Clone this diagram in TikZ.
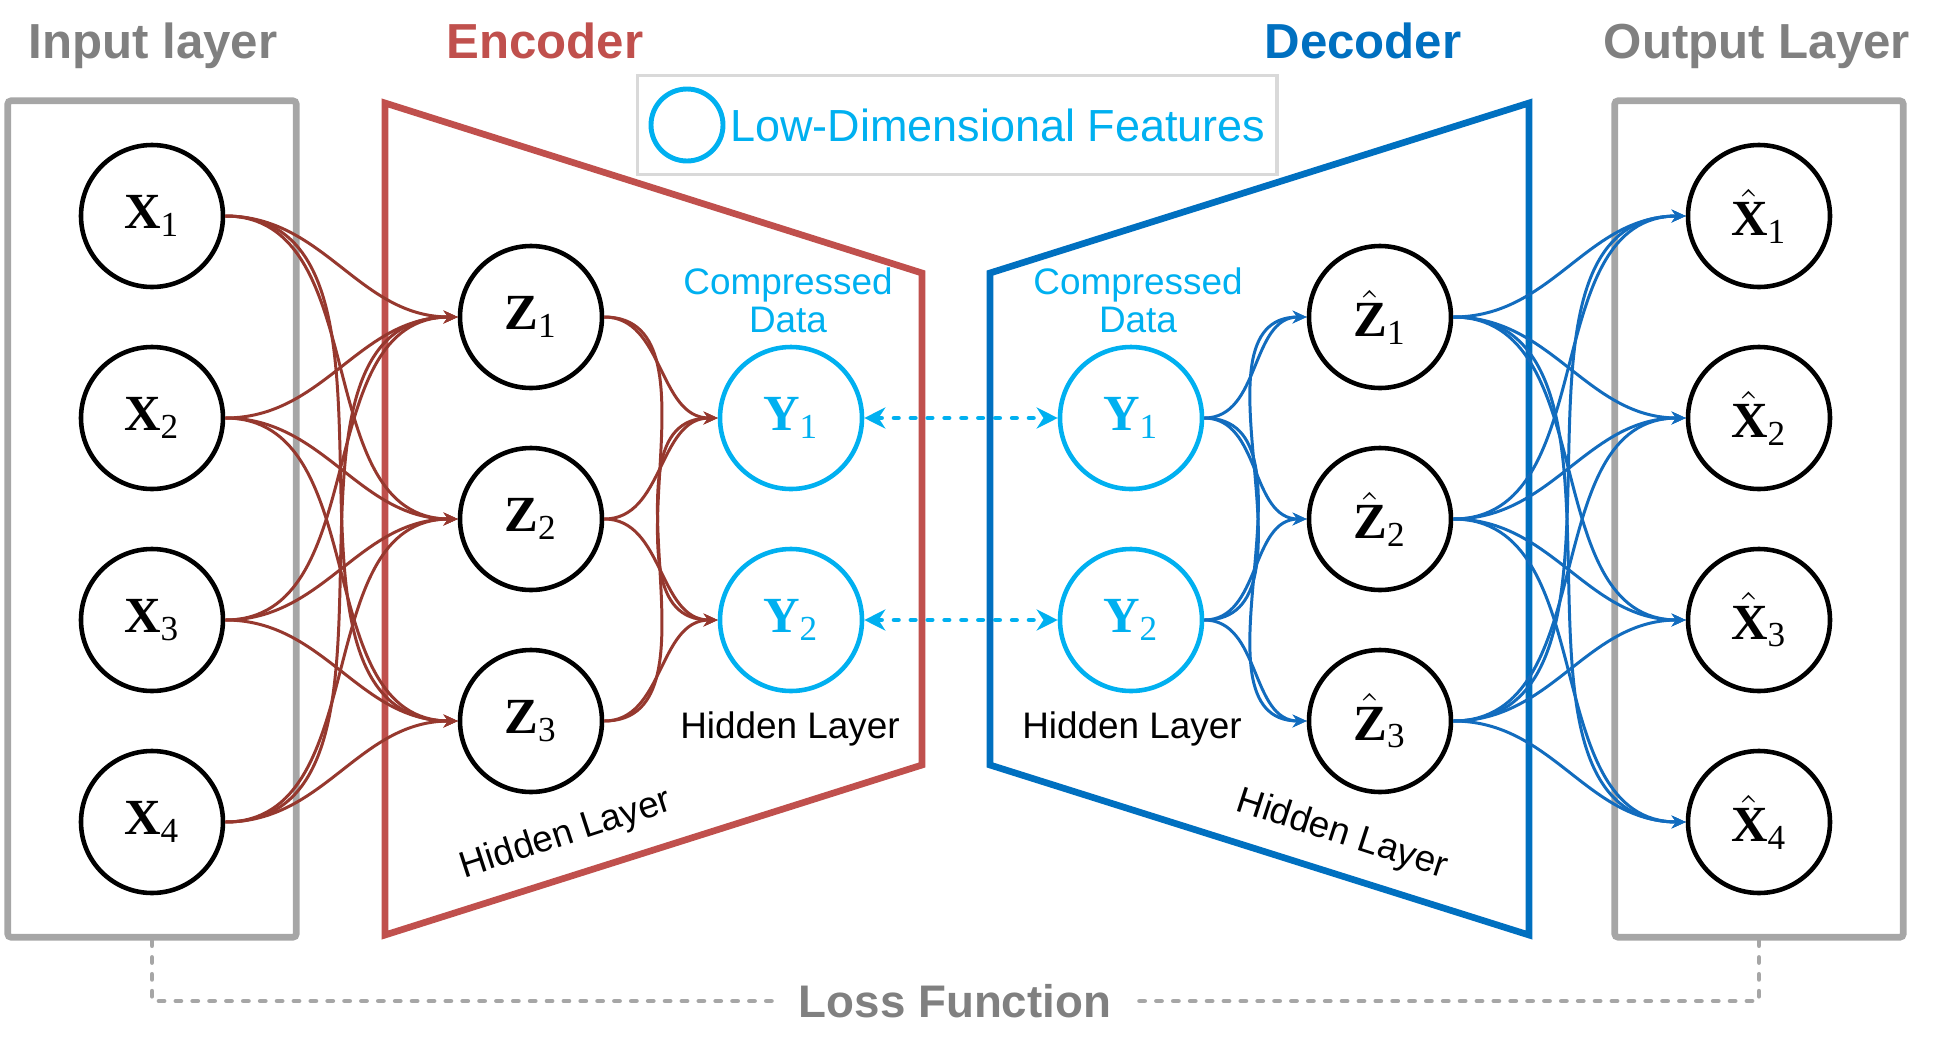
\documentclass[tikz,border=0pt]{standalone}
\usepackage{fontspec}
\setmainfont{Liberation Sans}
\newfontfamily\nodefont{Liberation Serif}
\usepackage{xcolor}
\usepackage{tikz}
\usetikzlibrary{arrows.meta,positioning,fit,backgrounds}
\definecolor{enccol}{RGB}{192,80,77}
\definecolor{encedge}{RGB}{150,56,46}
\definecolor{deccol}{RGB}{0,112,192}
\definecolor{decedge}{RGB}{18,108,190}
\definecolor{featcol}{RGB}{0,176,240}
\definecolor{titlegray}{RGB}{128,128,128}
\definecolor{boxgray}{RGB}{166,166,166}
\definecolor{legendgray}{RGB}{217,217,217}
\newcommand{\nlbl}[2]{{\bfseries #1}\textsubscript{#2}}
\newcommand{\nlblhat}[2]{$\hat{\mbox{\bfseries #1}}$\textsubscript{#2}}
\tikzset{
  nn unit/.style={circle,draw,line width=1.3pt,minimum size=14.2mm,inner sep=0pt,on grid,
    font=\nodefont\fontsize{14.4}{16}\selectfont},
  nn feature/.style={nn unit,draw=featcol,text=featcol},
  layer box/.style={draw=boxgray,line width=1.9pt,rounded corners=1pt,inner xsep=7.1mm,inner ysep=4.2mm},
  layer title/.style={anchor=base,font=\fontsize{14}{16}\selectfont\bfseries},
  enc frame/.style={draw=enccol,line width=1.9pt},
  dec frame/.style={draw=deccol,line width=1.9pt},
  enc arrow/.style={-{Stealth[length=4pt,width=3.6pt]},line width=0.85pt,draw=encedge},
  dec arrow/.style={-{Stealth[length=4pt,width=3.6pt]},line width=0.85pt,draw=decedge},
  feature link/.style={{Stealth[length=6pt,width=6pt]}-{Stealth[length=6pt,width=6pt]},featcol,
    line width=1.4pt,line cap=round,dash pattern=on 1.2pt off 3.6pt},
  hidden label/.style={font=\fontsize{10.5}{10.8}\selectfont,inner sep=0pt},
  loss line/.style={boxgray,line width=1.4pt,line cap=round,dash pattern=on 1.4pt off 3.4pt}
}
\begin{document}
\begin{tikzpicture}[x=0.1mm,y=-0.1mm,node distance=20.2mm]
  \useasboundingbox (0,0) rectangle (1937,1049);
  % encoder / decoder frames
  \draw[enc frame] (385,103) -- (922,273) -- (922,765) -- (385,935) -- cycle;
  \draw[dec frame] (990,273) -- (1529,103) -- (1529,935) -- (990,765) -- cycle;
  % input layer
  \node[nn unit] (X1) at (152,216) {\nlbl{X}{1}};
  \node[nn unit,below=of X1] (X2) {\nlbl{X}{2}};
  \node[nn unit,below=of X2] (X3) {\nlbl{X}{3}};
  \node[nn unit,below=of X3] (X4) {\nlbl{X}{4}};
  % encoder
  \node[nn unit] (Z1) at (531,317) {\nlbl{Z}{1}};
  \node[nn unit,below=of Z1] (Z2) {\nlbl{Z}{2}};
  \node[nn unit,below=of Z2] (Z3) {\nlbl{Z}{3}};
  \node[nn feature] (Y1) at (791,418) {\nlbl{Y}{1}};
  \node[nn feature,below=of Y1] (Y2) {\nlbl{Y}{2}};
  % decoder
  \node[nn feature] (Yd1) at (1131,418) {\nlbl{Y}{1}};
  \node[nn feature,below=of Yd1] (Yd2) {\nlbl{Y}{2}};
  \node[nn unit] (Zh1) at (1380,317) {\nlblhat{Z}{1}};
  \node[nn unit,below=of Zh1] (Zh2) {\nlblhat{Z}{2}};
  \node[nn unit,below=of Zh2] (Zh3) {\nlblhat{Z}{3}};
  % output layer
  \node[nn unit] (Xh1) at (1759,216) {\nlblhat{X}{1}};
  \node[nn unit,below=of Xh1] (Xh2) {\nlblhat{X}{2}};
  \node[nn unit,below=of Xh2] (Xh3) {\nlblhat{X}{3}};
  \node[nn unit,below=of Xh3] (Xh4) {\nlblhat{X}{4}};
  \node[layer box,fit=(X1)(X4)] (inbox) {};
  \node[layer box,fit=(Xh1)(Xh4)] (outbox) {};
  % titles
  \node[layer title,text=titlegray] (intitle) at (153,58) {Input layer};
  \node[layer title,text=enccol] (enctitle) at (545,58) {Encoder};
  \node[layer title,text=deccol] (dectitle) at (1363,58) {Decoder};
  \node[layer title,text=titlegray] (outtitle) at (1757,58) {Output Layer};
  % legend
  \node[circle,draw=featcol,line width=1.4pt,minimum size=7.2mm,inner sep=0pt] (lgc) at (687,125) {};
  \node[right=0.4mm of lgc,inner sep=0pt,text=featcol,font=\fontsize{12.8}{15}\selectfont] (lgt) {Low-Dimensional Features};
  \node[draw=legendgray,line width=1.1pt,inner sep=1.1mm,fit=(lgc)(lgt)] (legend) {};
  % labels
  \node[hidden label,align=center,text=featcol] (enccomp) at (788,300) {Compressed\\Data};
  \node[hidden label,align=center,text=featcol] (deccomp) at (1138,300) {Compressed\\Data};
  \node[hidden label,anchor=base] (enchid) at (790,738) {Hidden Layer};
  \node[hidden label,anchor=base] (dechid) at (1132,738) {Hidden Layer};
  \node[hidden label,rotate=18] (encbot) at (566,835) {Hidden Layer};
  \node[hidden label,rotate=-18] (decbot) at (1342,835) {Hidden Layer};
  % connections
  \foreach \i in {1,...,4}
    \foreach \j in {1,2,3}
      \draw[enc arrow] (X\i.east) to[out=0,in=180] (Z\j.west);
  \foreach \i in {1,2,3}
    \foreach \j in {1,2}
      \draw[enc arrow] (Z\i.east) to[out=0,in=180] (Y\j.west);
  \foreach \i in {1,2}
    \foreach \j in {1,2,3}
      \draw[dec arrow] (Yd\i.east) to[out=0,in=180] (Zh\j.west);
  \foreach \i in {1,2,3}
    \foreach \j in {1,...,4}
      \draw[dec arrow] (Zh\i.east) to[out=0,in=180] (Xh\j.west);
  \draw[feature link] (Y1) -- (Yd1);
  \draw[feature link] (Y2) -- (Yd2);
  % loss
  \node[inner xsep=1.8mm,text=titlegray,font=\fontsize{13}{15}\selectfont\bfseries] (loss) at (955,1001) {Loss Function};
  \draw[loss line] (inbox.south) |- (loss.west);
  \draw[loss line] (outbox.south) |- (loss.east);
\end{tikzpicture}
\end{document}
